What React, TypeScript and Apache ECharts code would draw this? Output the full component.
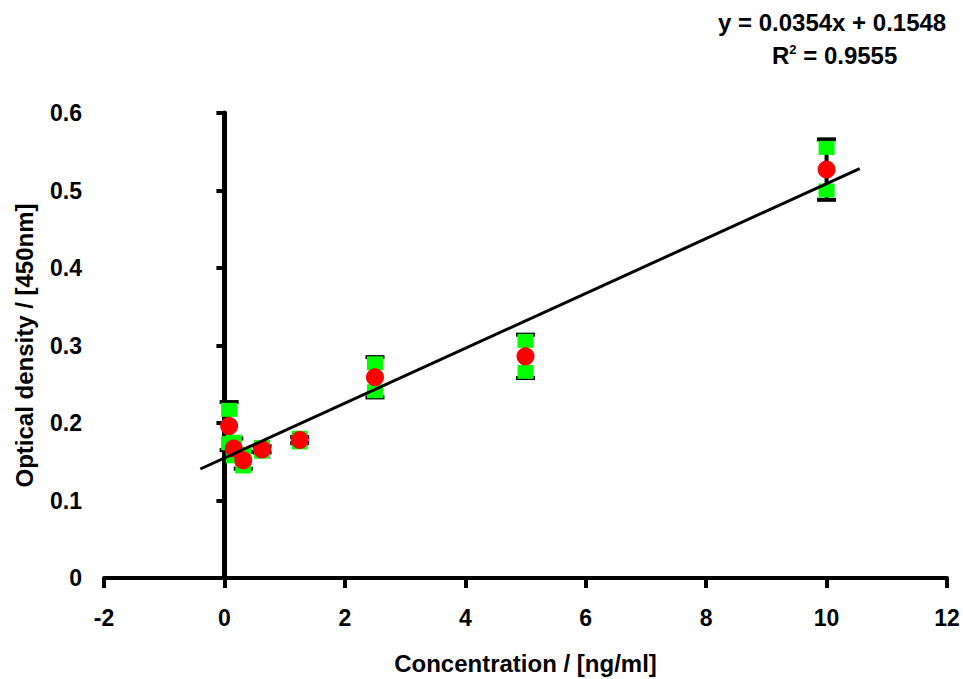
import React, { useEffect, useRef } from "react";
import * as echarts from "echarts";

// Concentrations (ng/ml)
const concentrations = [0.078, 0.156, 0.3125, 0.625, 1.25, 2.5, 5, 10];
// Replicate optical densities (green squares)
const replicateA = [0.217, 0.176, 0.16, 0.169, 0.181, 0.277, 0.306, 0.555];
const replicateB = [0.174, 0.157, 0.144, 0.163, 0.175, 0.241, 0.266, 0.5];
// Mean optical densities (red circles)
const means = [0.196, 0.167, 0.152, 0.166, 0.178, 0.259, 0.286, 0.527];
// Standard deviations (error bars)
const stdDevs = [0.031, 0.013, 0.011, 0.004, 0.004, 0.026, 0.028, 0.039];
// Linear fit
const slope = 0.0354;
const intercept = 0.1548;
const fitRange = [-0.4, 10.55];
const equationText = "y = 0.0354x + 0.1548";
const r2Text = "R{sup|2} = 0.9555";
const xTitle = "Concentration / [ng/ml]";
const yTitle = "Optical density / [450nm]";

const FONT = "'Liberation Sans', Arial, sans-serif";

export default function App() {
  const ref = useRef<HTMLDivElement>(null);
  useEffect(() => {
    if (!ref.current) return;
    const chart = echarts.init(ref.current, null, { renderer: "svg" });
    const greenData: number[][] = [];
    concentrations.forEach((c, i) => {
      greenData.push([c, replicateA[i]]);
      greenData.push([c, replicateB[i]]);
    });
    const redData = concentrations.map((c, i) => [c, means[i]]);
    const errData = concentrations.map((c, i) => [c, means[i], stdDevs[i]]);
    const fitData = fitRange.map((x) => [x, slope * x + intercept]);

    const labelStyle = {
      color: "#000",
      fontSize: 23,
      fontWeight: "bold" as const,
      fontFamily: FONT,
    };

    chart.setOption({
      animation: false,
      backgroundColor: "#fff",
      grid: {
        left: 104,
        right: 16,
        top: 113,
        bottom: 101,
        containLabel: false,
        outerBoundsMode: "none",
      },
      xAxis: {
        type: "value",
        min: -2,
        max: 12,
        interval: 2,
        axisLine: { show: true, onZero: false, lineStyle: { color: "#000", width: 4 } },
        axisTick: { show: true, length: 10, lineStyle: { color: "#000", width: 4 } },
        axisLabel: { ...labelStyle, margin: 28 },
        splitLine: { show: false },
        name: xTitle,
        nameLocation: "middle",
        nameGap: 73,
        nameTextStyle: { ...labelStyle, fontSize: 24 },
      },
      yAxis: [
        {
          type: "value",
          min: 0,
          max: 0.6,
          interval: 0.1,
          axisLine: { show: false },
          axisTick: { show: false },
          axisLabel: { ...labelStyle, margin: 22 },
          splitLine: { show: false },
          name: yTitle,
          nameLocation: "middle",
          nameGap: 68,
          nameRotate: 90,
          nameTextStyle: { ...labelStyle, fontSize: 24 },
        },
        {
          type: "value",
          min: 0,
          max: 0.6,
          interval: 0.1,
          position: "left",
          offset: -120.4,
          axisLine: { show: true, onZero: false, lineStyle: { color: "#000", width: 5 } },
          axisTick: { show: true, length: 8, lineStyle: { color: "#000", width: 4 } },
          axisLabel: { show: false },
          splitLine: { show: false },
        },
      ],
      graphic: [
        {
          type: "text",
          left: 718,
          top: 10,
          style: { text: equationText, fill: "#000", font: `bold 24px ${FONT}` },
        },
        {
          type: "text",
          left: 772,
          top: 43,
          style: {
            text: r2Text,
            fill: "#000",
            font: `bold 24px ${FONT}`,
            rich: {
              sup: {
                fontSize: 13,
                fontWeight: "bold",
                fontFamily: FONT,
                fill: "#000",
                verticalAlign: "top",
                padding: [0, 0, 10, 0],
              },
            },
          },
        },
      ],
      series: [
        {
          type: "custom",
          name: "errors",
          z: 2,
          data: errData,
          renderItem: (params: any, api: any) => {
            const x = api.value(0);
            const m = api.value(1);
            const s = api.value(2);
            const top = api.coord([x, m + s]);
            const bot = api.coord([x, m - s]);
            const hw = 9.5;
            const style = { stroke: "#000", lineWidth: 4 };
            return {
              type: "group",
              children: [
                { type: "line", shape: { x1: top[0], y1: top[1], x2: bot[0], y2: bot[1] }, style },
                { type: "line", shape: { x1: top[0] - hw, y1: top[1], x2: top[0] + hw, y2: top[1] }, style },
                { type: "line", shape: { x1: bot[0] - hw, y1: bot[1], x2: bot[0] + hw, y2: bot[1] }, style },
              ],
            };
          },
        },
        {
          type: "scatter",
          name: "replicates",
          z: 3,
          symbol: "rect",
          symbolSize: [16, 14],
          itemStyle: { color: "#00ff00", opacity: 1 },
          data: greenData,
        },
        {
          type: "scatter",
          name: "means",
          z: 4,
          symbol: "circle",
          symbolSize: 18,
          itemStyle: { color: "#ff0000", opacity: 1 },
          data: redData,
        },
        {
          type: "line",
          name: "fit",
          z: 5,
          symbol: "none",
          lineStyle: { color: "#000", width: 3 },
          data: fitData,
        },
      ],
    });
    return () => chart.dispose();
  }, []);
  return (
    <div
      ref={ref}
      style={{ position: "fixed", left: 0, top: 0, width: 963, height: 679, background: "#fff" }}
    />
  );
}
